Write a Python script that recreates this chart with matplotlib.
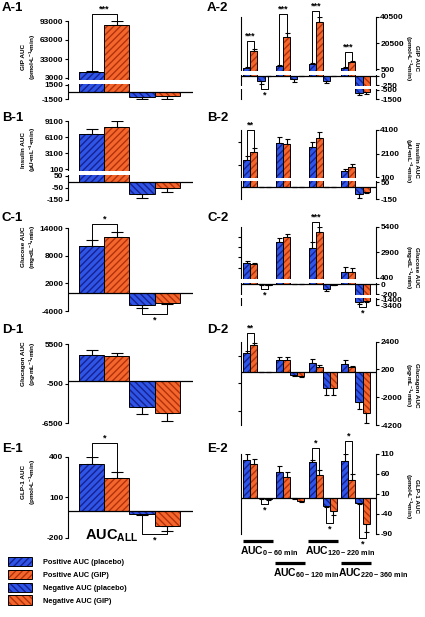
"""GIP / insulin / glucose / glucagon / GLP-1 AUC panels, whole period and time windows."""

import matplotlib

matplotlib.use("Agg")
import matplotlib.pyplot as plt
import numpy as np
from matplotlib.patches import Patch, Rectangle
from matplotlib.ticker import NullFormatter
from matplotlib.transforms import blended_transform_factory

plt.rcParams["font.family"] = ["Liberation Sans", "DejaVu Sans"]
plt.rcParams["font.weight"] = "bold"
plt.rcParams["mathtext.fontset"] = "custom"
plt.rcParams["mathtext.rm"] = "Liberation Sans:bold"
plt.rcParams["mathtext.bf"] = "Liberation Sans:bold"
plt.rcParams["mathtext.it"] = "Liberation Sans:bold"
plt.rcParams["hatch.linewidth"] = 1.0
plt.rcParams["axes.linewidth"] = 0.8

W, H = 425, 617

# --- Data ---------------------------------------------------------------------
# Whole-period AUC: [positive placebo, positive GIP, negative placebo, negative GIP]
GIP_ALL = [13000, 86000, -1150, -850]
GIP_ALL_SEM = [1500, 7000, 400, 600]
INS_ALL = [6700, 8000, -100, -53]
INS_ALL_SEM = [1000, 1100, 35, 27]
GLU_ALL = [10200, 12000, -2700, -2200]
GLU_ALL_SEM = [1300, 1200, 600, 300]
GCG_ALL = [3800, 3750, -3950, -4950]
GCG_ALL_SEM = [760, 450, 1100, 1250]
GLP_ALL = [346, 240, -24, -113]
GLP_ALL_SEM = [55, 45, 8, 35]

# Time windows 0-60, 60-120, 120-220, 220-360 min.
# Rows: positive placebo, positive GIP, negative placebo, negative GIP
WINDOWS = ["0-60", "60-120", "120-220", "220-360"]
GIP_WIN = [[1700, 3000, 4300, 1700],
           [14600, 25300, 36700, 6300],
           [-134, -100, -134, -800],
           [-3, -5, -5, -700]]
GIP_WIN_SEM = [[200, 770, 760, 300],
               [1300, 2600, 3800, 760],
               [90, 60, 70, 250],
               [2, 3, 3, 250]]
INS_WIN = [[1560, 2975, 2690, 630],
           [2210, 2890, 3400, 950],
           [-3, -2, -2, -90],
           [-3, -2, -2, -60]]
INS_WIN_SEM = [[370, 500, 370, 170],
               [340, 450, 560, 275],
               [2, 2, 2, 40],
               [2, 2, 2, 20]]
GLU_WIN = [[1810, 3930, 3340, 990],
           [1740, 4360, 4850, 990],
           [-5, -2, -94, -2500],
           [-15, -2, -10, -1970]]
GLU_WIN_SEM = [[230, 330, 530, 430],
               [130, 290, 550, 330],
               [5, 2, 40, 570],
               [8, 2, 5, 430]]
GCG_WIN = [[1500, 915, 700, 650],
           [2100, 915, 390, 390],
           [-15, -220, -1280, -2340],
           [-15, -280, -1280, -3270]]
GCG_WIN_SEM = [[180, 235, 350, 320],
               [190, 235, 130, 100],
               [10, 60, 530, 580],
               [10, 80, 530, 790]]
GLP_WIN = [[96, 65, 90, 92.5],
           [84, 52.5, 57, 46],
           [-1, -1, -20, -11.5],
           [-3, -7, -32.5, -64]]
GLP_WIN_SEM = [[13, 14, 6, 16.5],
               [14, 12.5, 14, 15],
               [1, 1, 2, 2.5],
               [1, 2, 10.5, 21]]

LEGEND_LABELS = ["Positive AUC (placebo)", "Positive AUC (GIP)",
                 "Negative AUC (placebo)", "Negative AUC (GIP)"]
YLABELS = ["GIP AUC\n(pmol•L$^{-1}$•min)",
           "Insulin AUC\n(µU•mL$^{-1}$•min)",
           "Glucose AUC\n(mg•dL$^{-1}$•min)",
           "Glucagon AUC\n(pg•mL$^{-1}$•min)",
           "GLP-1 AUC\n(pmol•L$^{-1}$•min)"]

# --- Styling / layout -----------------------------------------------------------
BLUE, BLUE_DARK = "#2f55e6", "#16208f"
ORANGE, ORANGE_DARK = "#f4662c", "#b2310d"
BAR_STYLE = [
    (BLUE, BLUE_DARK, "/////"),
    (ORANGE, ORANGE_DARK, "/////"),
    (BLUE, BLUE_DARK, "\\\\\\\\\\"),
    (ORANGE, ORANGE_DARK, "\\\\\\\\\\"),
]
STRIDE = 4.6
LEFT_X = (68, 193, -0.94, 4.02)       # pixel left/right, data xlim
RIGHT_X = (241, 375.7, -0.82, 18.15)
LABEL_ROWS = [8.3, 118, 218, 330, 448.5]

# axis breakpoints: values and the pixel rows they sit on
LEFT_PANELS = [
    dict(label="A-1", data=GIP_ALL, sem=GIP_ALL_SEM,
         vals=[-1500, 1500, 3000, 93000], rows=[99, 84.5, 78, 21],
         ticks=[-1500, 1500, 3000, 33000, 63000, 93000], bands=[(83.6, 79.6)],
         brackets=[(0, 1, 104000, "***")], ylab=57),
    dict(label="B-1", data=INS_ALL, sem=INS_ALL_SEM,
         vals=[-150, 50, 100, 9100], rows=[200, 176, 169.3, 121],
         ticks=[-150, -50, 50, 100, 3100, 6100, 9100], bands=[(174.6, 170.6)],
         brackets=[], ylab=150),
    dict(label="C-1", data=GLU_ALL, sem=GLU_ALL_SEM,
         vals=[-4000, 14000], rows=[311, 228.3],
         ticks=[-4000, 2000, 8000, 14000], bands=[],
         brackets=[(0, 1, 14970, "*"), (2, 3, -4670, "*")], ylab=247),
    dict(label="D-1", data=GCG_ALL, sem=GCG_ALL_SEM,
         vals=[-6500, 5500], rows=[423.3, 344.3],
         ticks=[-6500, -500, 5500], bands=[], brackets=[], ylab=364),
    dict(label="E-1", data=GLP_ALL, sem=GLP_ALL_SEM,
         vals=[-200, 400], rows=[537.7, 456.7],
         ticks=[-200, 100, 400], bands=[],
         brackets=[(0, 1, 501, "*"), (2, 3, -173, "*")], ylab=482),
]

RIGHT_PANELS = [
    dict(label="A-2", data=GIP_WIN, sem=GIP_WIN_SEM,
         vals=[-1500, -500, -250, 0, 500, 40500], rows=[99, 90, 85, 75.7, 69.3, 16.7],
         ticks=[-1500, -500, -250, 0, 500, 20500, 40500],
         minor=[-1500, -500, -250, 0, 500, 20500, 40500],
         bands=[(74.6, 70.6), (86.2, 88.9)],
         brackets=[(0, 0, 1, 22250, "***"), (1, 0, 1, 42600, "***"),
                   (2, 0, 1, 45200, "***"), (3, 0, 1, 13880, "***"),
                   (0, 2, 3, -450, "*")], ylab=58),
    dict(label="B-2", data=INS_WIN, sem=INS_WIN_SEM,
         vals=[-150, 50, 100, 4100], rows=[199.3, 182.5, 177.3, 130],
         ticks=[-150, 50, 100, 2100, 4100],
         minor=[-150, 50, 100, 1100, 2100, 3100, 4100],
         bands=[(181.4, 178.5)],
         brackets=[(0, 0, 1, 4100, "**")], ylab=160),
    dict(label="C-2", data=GLU_WIN, sem=GLU_WIN_SEM,
         vals=[-3400, -1400, -200, 0, 400, 5400], rows=[305, 299, 294, 284, 277.7, 226.7],
         ticks=[-3400, -1400, -200, 0, 400, 2900, 5400],
         minor=[-3400, -1400, -200, 0, 400, 1400, 2400, 3400, 4400, 5400],
         bands=[(282.9, 279.0), (295.2, 297.8)],
         brackets=[(2, 0, 1, 5890, "***"), (0, 2, 3, -94, "*"),
                   (3, 2, 3, -4170, "*")], ylab=267),
    dict(label="D-2", data=GCG_WIN, sem=GCG_WIN_SEM,
         vals=[-4200, 2400], rows=[425, 341.7],
         ticks=[-4200, -2000, 200, 2400],
         minor=[-4200, -3100, -2000, -900, 200, 1300, 2400],
         bands=[], brackets=[(0, 0, 1, 3090, "**")], ylab=385),
    dict(label="E-2", data=GLP_WIN, sem=GLP_WIN_SEM,
         vals=[-90, 110], rows=[534, 454],
         ticks=[-90, -40, 10, 60, 110], minor=[-90, -40, 10, 60, 110],
         bands=[],
         brackets=[(0, 2, 3, -14, "*"), (2, 0, 1, 126, "*"), (3, 0, 1, 142, "*"),
                   (2, 2, 3, -62.5, "*"), (3, 2, 3, -100, "*")], ylab=496),
]


def piecewise(vals, rows):
    """Forward/inverse functions mapping values to (negative) pixel rows."""
    v = np.asarray(vals, float)
    p = -np.asarray(rows, float)

    def interp(x, xs, ys):
        x = np.asarray(x, float)
        y = np.interp(x, xs, ys)
        lo = (ys[1] - ys[0]) / (xs[1] - xs[0])
        hi = (ys[-1] - ys[-2]) / (xs[-1] - xs[-2])
        y = np.where(x < xs[0], ys[0] + (x - xs[0]) * lo, y)
        y = np.where(x > xs[-1], ys[-1] + (x - xs[-1]) * hi, y)
        return y

    return (lambda x: interp(x, v, p)), (lambda y: interp(y, p, v))


def make_axes(fig, xspec, cfg):
    x0, x1, xl, xr = xspec
    top, bot = cfg["rows"][-1], cfg["rows"][0]
    ax = fig.add_axes([x0 / W, 1 - bot / H, (x1 - x0) / W, (bot - top) / H])
    fwd, inv = piecewise(cfg["vals"], cfg["rows"])
    ax.set_yscale("function", functions=(fwd, inv))
    ax.set_ylim(cfg["vals"][0], cfg["vals"][-1])
    ax.set_xlim(xl, xr)
    ax.set_xticks([])
    for side in ("top", "bottom", "right"):
        ax.spines[side].set_visible(False)
    ax.axhline(0, color="k", lw=0.9, zorder=2.7)
    # white gaps for the broken axis
    trans = blended_transform_factory(ax.transAxes, ax.transData)
    for r0, r1 in cfg["bands"]:
        v0, v1 = inv(-r0), inv(-r1)
        ax.add_patch(Rectangle((-0.03, v0), 1.06, v1 - v0, transform=trans,
                               color="white", lw=0, zorder=2.6, clip_on=False))
    return ax


def draw_bars(ax, data, sem, ngroups, cap):
    tips = {}
    for k, (face, dark, hatch) in enumerate(BAR_STYLE):
        x = np.arange(ngroups) * STRIDE + k
        vals = np.asarray(data[k], float)
        err = np.asarray(sem[k], float)
        ax.bar(x, vals, 1.0, color=face, edgecolor=dark, hatch=hatch, lw=0, zorder=1)
        ax.bar(x, vals, 1.0, fill=False, edgecolor="k", lw=0.7, zorder=1.1)
        zero = np.zeros_like(err)
        yerr = [zero, err] if k < 2 else [err, zero]
        ax.errorbar(x, vals, yerr=yerr, fmt="none", ecolor="k", elinewidth=0.8,
                    capsize=cap, capthick=0.8, zorder=0.9)
        for g in range(ngroups):
            tips[(g, k)] = (x[g], vals[g] + (err[g] if k < 2 else -err[g]))
    return tips


def bracket(ax, p1, p2, level, text):
    (x1, y1), (x2, y2) = p1, p2
    below = level < 0
    ax.plot([x1, x1, x2, x2], [y1, level, level, y2], color="k", lw=0.7,
            clip_on=False, zorder=4)
    ax.annotate(text, ((x1 + x2) / 2, level), xytext=(0, -1.2 if below else 0.2),
                textcoords="offset points", ha="center",
                va="top" if below else "bottom", fontsize=6.5,
                annotation_clip=False)


fig = plt.figure(figsize=(W / 100, H / 100), dpi=100)

for i, cfg in enumerate(LEFT_PANELS):
    ax = make_axes(fig, LEFT_X, cfg)
    data = [[v] for v in cfg["data"]]
    sem = [[s] for s in cfg["sem"]]
    tips = draw_bars(ax, data, sem, 1, 4.3)
    ax.set_yticks(cfg["ticks"], labels=[str(int(t)) for t in cfg["ticks"]])
    ax.tick_params(axis="y", direction="out", length=2.5, width=0.8, pad=0.8,
                   labelsize=6)
    for a, b, level, text in cfg["brackets"]:
        bracket(ax, tips[(0, a)], tips[(0, b)], level, text)
    fig.text(2 / W, 1 - LABEL_ROWS[i] / H, cfg["label"], fontsize=9.5,
             va="center", ha="left")
    fig.text(29.5 / W, 1 - cfg["ylab"] / H, YLABELS[i], rotation=90,
             fontsize=4.6, ha="center", va="center", multialignment="center")

for i, cfg in enumerate(RIGHT_PANELS):
    ax = make_axes(fig, RIGHT_X, cfg)
    ax.spines["right"].set_visible(True)
    tips = draw_bars(ax, cfg["data"], cfg["sem"], 4, 1.8)
    ax.set_yticks(cfg["ticks"], labels=[str(int(t)) for t in cfg["ticks"]])
    ax.set_yticks(cfg["minor"], minor=True)
    ax.yaxis.set_minor_formatter(NullFormatter())
    ax.tick_params(axis="y", which="major", left=False, right=True,
                   labelleft=False, labelright=True, direction="out",
                   length=2.5, width=0.8, pad=0.8, labelsize=6)
    ax.tick_params(axis="y", which="minor", left=True, right=False,
                   direction="out", length=2.5, width=0.8)
    for g, a, b, level, text in cfg["brackets"]:
        bracket(ax, tips[(g, a)], tips[(g, b)], level, text)
    fig.text(207 / W, 1 - LABEL_ROWS[i] / H, cfg["label"], fontsize=9.5,
             va="center", ha="left")
    fig.text(411 / W, 1 - cfg["ylab"] / H, YLABELS[i], rotation=270,
             fontsize=4.6, ha="center", va="center", multialignment="center")
    if cfg["label"] == "E-2":
        ax_e2 = ax

# time-window markers under E-2
trans = blended_transform_factory(ax_e2.transData, fig.transFigure)
for g, win in enumerate(WINDOWS):
    row = 540.7 if g % 2 == 0 else 562.7
    y = 1 - row / H
    ax_e2.plot([g * STRIDE - 0.6, g * STRIDE + 3.63], [y, y], transform=trans,
               color="k", lw=2.3, solid_capstyle="butt", clip_on=False)
    ax_e2.text(g * STRIDE - 0.95, 1 - (row + 10.5) / H,
               "AUC$_{\\mathrm{" + win + "\\ min}}$", transform=trans,
               fontsize=7.5, ha="left", va="center")

fig.text(85 / W, 1 - 540 / H, "AUC$_{\\mathrm{ALL}}$", fontsize=10.5,
         ha="left", va="baseline")

handles = [(Patch(facecolor=f, edgecolor=d, hatch=h, lw=0),
            Patch(fill=False, edgecolor="k", lw=0.7)) for f, d, h in BAR_STYLE]
fig.legend(handles=handles, labels=LEGEND_LABELS, loc="upper left",
           bbox_to_anchor=(8 / W, 1 - 556.7 / H), frameon=False, fontsize=5.3,
           handlelength=3.26, handleheight=1.63, handletextpad=1.5,
           labelspacing=0.45, borderpad=0, borderaxespad=0)

fig.savefig("out.png", dpi=100)
